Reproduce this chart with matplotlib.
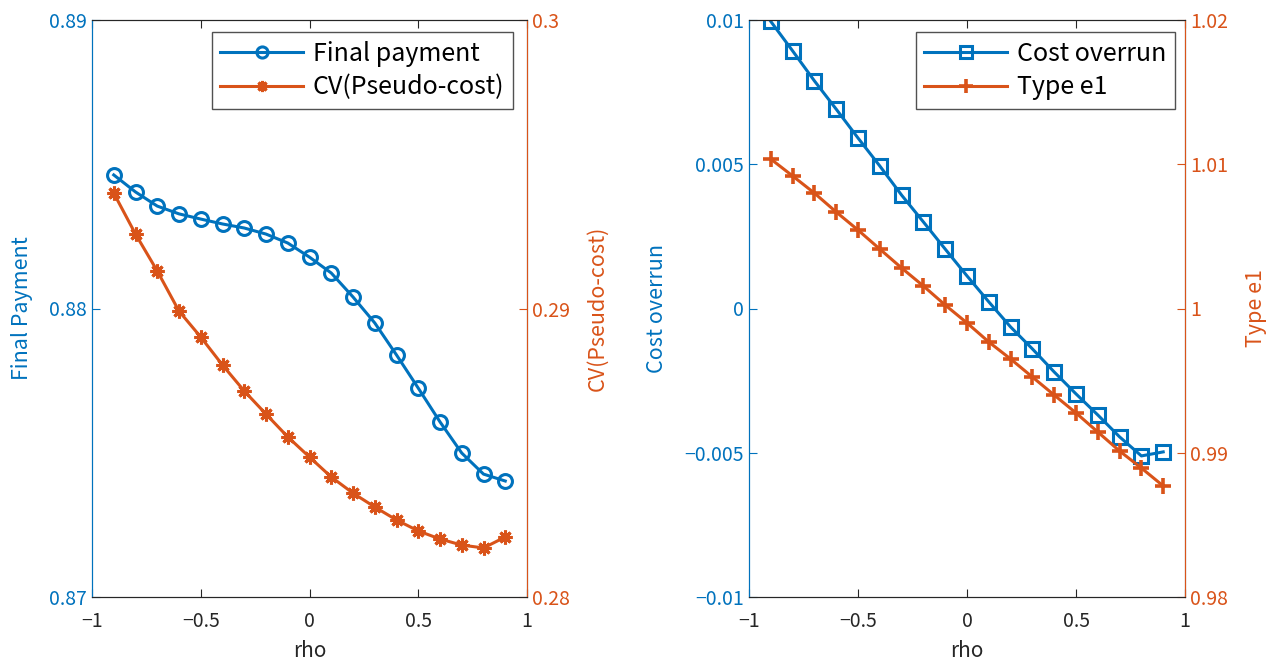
import numpy as np
import matplotlib.pyplot as plt

plt.rcParams['font.family'] = ['Noto Sans CJK JP', 'DejaVu Sans']
plt.rcParams['font.size'] = 14

blue = "#0072BD"
orange = "#D95319"
dark = "#262626"

rho = [-0.9, -0.8, -0.7, -0.6, -0.5, -0.4, -0.3, -0.2, -0.1, 0.0,
       0.1, 0.2, 0.3, 0.4, 0.5, 0.6, 0.7, 0.8, 0.9]

final_payment = [0.88463, 0.88404, 0.88355, 0.88328, 0.88310, 0.88293, 0.88279,
                 0.88258, 0.88227, 0.88178, 0.88123, 0.88040, 0.87950, 0.87839,
                 0.87724, 0.87607, 0.87499, 0.87426, 0.87402]
cv_pseudo = [0.29400, 0.29258, 0.29130, 0.28991, 0.28901, 0.28804, 0.28714,
             0.28634, 0.28555, 0.28485, 0.28416, 0.28360, 0.28312, 0.28267,
             0.28229, 0.28201, 0.28180, 0.28170, 0.28208]

cost_overrun = [0.00995, 0.00893, 0.00789, 0.00691, 0.00591, 0.00494, 0.00393,
                0.00300, 0.00206, 0.00113, 0.00023, -0.00064, -0.00140, -0.00220,
                -0.00296, -0.00369, -0.00445, -0.00511, -0.00497]
type_e1 = [1.01036, 1.00919, 1.00800, 1.00669, 1.00544, 1.00412, 1.00281,
           1.00156, 1.00024, 0.99900, 0.99768, 0.99650, 0.99525, 0.99400,
           0.99276, 0.99144, 0.99012, 0.98894, 0.98770]

fig = plt.figure(figsize=(12.88, 6.69), dpi=100)
W, H = 1288, 669


def setup(ax, ax2, ylim1, yt1, ylim2, yt2, lab1, lab2):
    ax.set_xlim(-1, 1)
    ax.set_xticks([-1, -0.5, 0, 0.5, 1])
    ax.set_xticklabels(["\u22121", "\u22120.5", "0", "0.5", "1"])
    ax.set_xlabel("rho", fontsize=15, color=dark, labelpad=6)
    ax.set_ylim(*ylim1)
    ax.set_yticks(yt1)
    ax2.set_ylim(*ylim2)
    ax2.set_yticks(yt2)
    ax.set_ylabel(lab1, color=blue, fontsize=15.5, labelpad=12)
    ax2.set_ylabel(lab2, color=orange, fontsize=15.5, labelpad=12)
    ax.tick_params(axis="y", colors=blue, direction="in", length=6)
    ax.tick_params(axis="x", direction="in", top=True, bottom=True, length=6,
                   colors=dark, pad=10)
    ax2.tick_params(axis="x", direction="in", top=True, bottom=True, length=6,
                    colors=dark)
    ax2.tick_params(axis="y", colors=orange, direction="in", length=6)
    ax.spines["left"].set_color(blue)
    ax2.spines["left"].set_color(blue)
    ax2.spines["right"].set_color(orange)
    for a in (ax, ax2):
        a.spines["top"].set_color(dark)
        a.spines["bottom"].set_color(dark)


def add_legend(ax, handles, labels, anchor):
    leg = ax.legend(handles, labels, loc="upper right", fontsize=18,
                    fancybox=False, edgecolor=dark, borderpad=0.35,
                    handlelength=3.3, handletextpad=0.4, markerscale=0.8,
                    labelspacing=0.3, borderaxespad=0, bbox_to_anchor=anchor)
    leg.get_frame().set_linewidth(1.0)
    return leg


# left panel
ax1 = fig.add_axes([92 / W, (H - 597) / H, 435 / W, 577 / H])
ax1b = ax1.twinx()
l1, = ax1.plot(rho, final_payment, color=blue, lw=2.2, marker="o", ms=10,
               mfc="none", mew=2.2, label="Final payment")
l2, = ax1b.plot(rho, cv_pseudo, color=orange, lw=2.2, marker=(8, 2, 0), ms=10,
                mew=2.2, label="CV(Pseudo-cost)")
setup(ax1, ax1b, (0.87, 0.89), [0.87, 0.88, 0.89], (0.28, 0.30), [0.28, 0.29, 0.30],
      "Final Payment", "CV(Pseudo-cost)")
ax1.set_yticklabels(["0.87", "0.88", "0.89"])
ax1b.set_yticklabels(["0.28", "0.29", "0.3"])
add_legend(ax1b, [l1, l2], ["Final payment", "CV(Pseudo-cost)"],
           ((513 - 92) / 435, (597 - 32) / 577))

# right panel
ax2 = fig.add_axes([749 / W, (H - 597) / H, 436 / W, 577 / H])
ax2b = ax2.twinx()
l3, = ax2.plot(rho, cost_overrun, color=blue, lw=2.2, marker="s", ms=10,
               mfc="none", mew=2.2, label="Cost overrun")
l4, = ax2b.plot(rho, type_e1, color=orange, lw=2.2, marker="+", ms=12,
                mew=2.6, label="Type e1")
setup(ax2, ax2b, (-0.01, 0.01), [-0.01, -0.005, 0, 0.005, 0.01], (0.98, 1.02),
      [0.98, 0.99, 1.0, 1.01, 1.02], "Cost overrun", "Type e1")
ax2.set_yticklabels(["\u22120.01", "\u22120.005", "0", "0.005", "0.01"])
ax2b.set_yticklabels(["0.98", "0.99", "1", "1.01", "1.02"])
add_legend(ax2b, [l3, l4], ["Cost overrun", "Type e1"],
           ((1175 - 749) / 436, (597 - 32) / 577))

fig.savefig("out.png", dpi=100)
